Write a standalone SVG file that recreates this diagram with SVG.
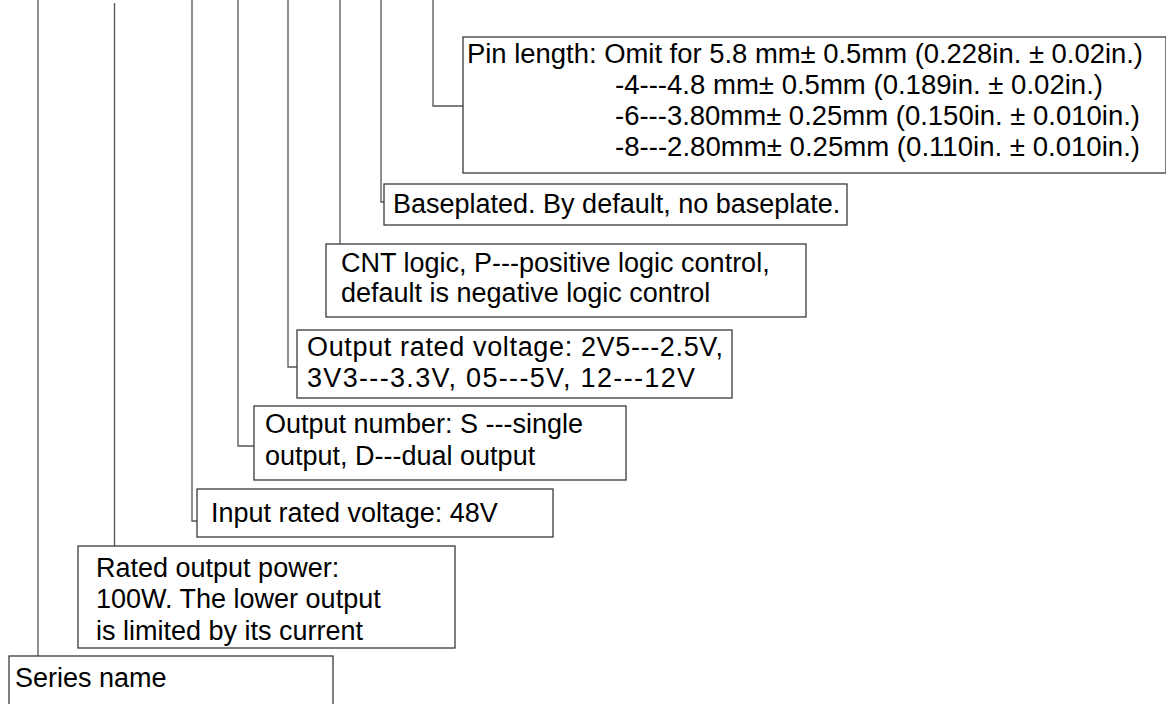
<svg xmlns="http://www.w3.org/2000/svg" width="1166" height="704" viewBox="0 0 1166 704">
<style>
.box{fill:#fff;stroke:#3a3a3a;stroke-width:1.3}
.t{font-family:"Liberation Sans",Arial,sans-serif;font-size:27px;fill:#000}
.c{fill:none;stroke:#555;stroke-width:1.3}
</style>
<rect width="1166" height="704" fill="#fff"/>
<g id="connectors">
<path class="c" d="M38,0V656"/>
<path class="c" d="M114.5,3V546"/>
<path class="c" d="M192,0V521H197"/>
<path class="c" d="M238,0V446H254"/>
<path class="c" d="M288,0V367H297"/>
<path class="c" d="M340,0V244"/>
<path class="c" d="M381,0V202H384"/>
<path class="c" d="M433,0V106H463"/>
</g>
<g id="pin-length">
<rect class="box" x="463" y="37" width="703" height="136"/>
<text class="t" x="467" y="63" textLength="676" lengthAdjust="spacingAndGlyphs">Pin length: Omit for 5.8 mm± 0.5mm (0.228in. ± 0.02in.)</text>
<text class="t" x="615" y="94" textLength="488" lengthAdjust="spacingAndGlyphs">-4---4.8 mm± 0.5mm (0.189in. ± 0.02in.)</text>
<text class="t" x="615" y="125" textLength="525" lengthAdjust="spacingAndGlyphs">-6---3.80mm± 0.25mm (0.150in. ± 0.010in.)</text>
<text class="t" x="615" y="156" textLength="525" lengthAdjust="spacingAndGlyphs">-8---2.80mm± 0.25mm (0.110in. ± 0.010in.)</text>
</g>
<g id="baseplate">
<rect class="box" x="384" y="184" width="463" height="41"/>
<text class="t" x="393" y="213">Baseplated. By default, no baseplate.</text>
</g>
<g id="cnt-logic">
<rect class="box" x="326" y="244" width="480" height="73"/>
<text class="t" x="341" y="272">CNT logic, P---positive logic control,</text>
<text class="t" x="341" y="302">default is negative logic control</text>
</g>
<g id="output-voltage">
<rect class="box" x="297" y="330" width="435" height="68"/>
<text class="t" x="307" y="356" textLength="416" lengthAdjust="spacing">Output rated voltage: 2V5---2.5V,</text>
<text class="t" x="307" y="387" textLength="388" lengthAdjust="spacing">3V3---3.3V, 05---5V, 12---12V</text>
</g>
<g id="output-number">
<rect class="box" x="254" y="406" width="372" height="74"/>
<text class="t" x="265" y="433">Output number: S ---single</text>
<text class="t" x="265" y="465">output, D---dual output</text>
</g>
<g id="input-voltage">
<rect class="box" x="197" y="489" width="356" height="48"/>
<text class="t" x="211" y="522">Input rated voltage: 48V</text>
</g>
<g id="output-power">
<rect class="box" x="78" y="546" width="377" height="102"/>
<text class="t" x="96" y="577">Rated output power:</text>
<text class="t" x="96" y="608">100W. The lower output</text>
<text class="t" x="96" y="640">is limited by its current</text>
</g>
<g id="series-name">
<rect class="box" x="9" y="656" width="324" height="60"/>
<text class="t" x="15" y="687">Series name</text>
</g>
</svg>
